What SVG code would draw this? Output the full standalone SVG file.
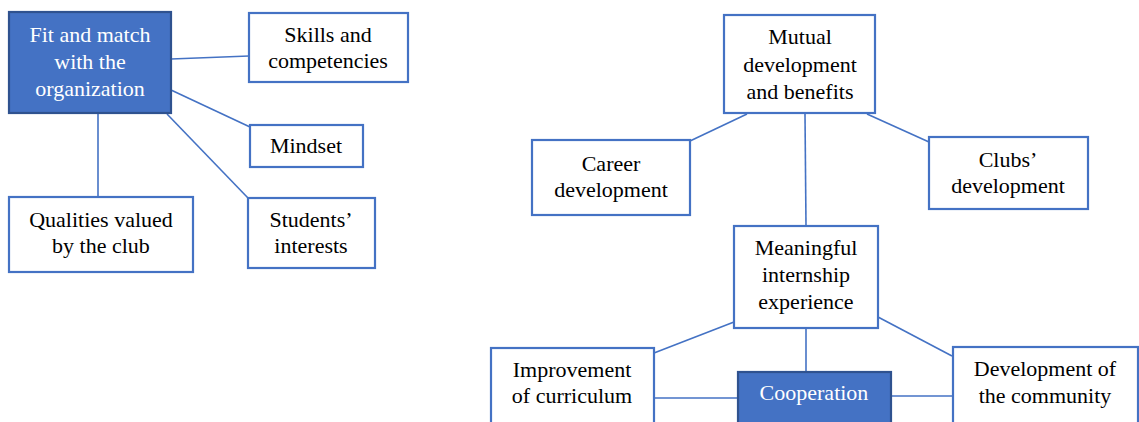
<svg xmlns="http://www.w3.org/2000/svg" width="1139" height="422" viewBox="0 0 1139 422">
<style>
.box{fill:#fff;stroke:#4472C4;stroke-width:2.2}
.dark{fill:#4472C4;stroke:#2F528F;stroke-width:2.2}
text{font-family:'Liberation Serif','Times New Roman',serif;font-size:22px;fill:#000;text-anchor:middle}
text.w{fill:#fff}
.c line{stroke:#4472C4;stroke-width:1.6}
</style>
<rect width="1139" height="422" fill="#fff"/>
<g class="c" id="connectors">
<line x1="171" y1="59" x2="249" y2="56"/>
<line x1="171" y1="90" x2="250" y2="127"/>
<line x1="167" y1="114" x2="248" y2="198"/>
<line x1="98" y1="113" x2="98" y2="197"/>
<line x1="747" y1="114" x2="690" y2="141"/>
<line x1="867" y1="114" x2="929" y2="142"/>
<line x1="805" y1="114" x2="806" y2="226"/>
<line x1="734" y1="322" x2="654" y2="353"/>
<line x1="878" y1="317" x2="952" y2="356"/>
<line x1="806" y1="328" x2="806" y2="372"/>
<line x1="654" y1="398" x2="738" y2="398"/>
<line x1="891" y1="396" x2="953" y2="396"/>
</g>
<g id="fit"><rect class="dark" x="9" y="12" width="162" height="101"/>
<text class="w" x="90" y="42">Fit and match</text><text class="w" x="90" y="69">with the</text><text class="w" x="90" y="96">organization</text></g>
<g id="skills"><rect class="box" x="249" y="13" width="159" height="69"/>
<text x="328" y="42">Skills and</text><text x="328" y="68">competencies</text></g>
<g id="mindset"><rect class="box" x="250" y="125" width="113" height="42"/>
<text x="306" y="153">Mindset</text></g>
<g id="qualities"><rect class="box" x="9" y="197" width="184" height="75"/>
<text x="101" y="227">Qualities valued</text><text x="101" y="253">by the club</text></g>
<g id="students"><rect class="box" x="248" y="198" width="127" height="70"/>
<text x="311" y="227">Students’</text><text x="311" y="253">interests</text></g>
<g id="mutual"><rect class="box" x="724" y="15" width="151" height="98"/>
<text x="800" y="44">Mutual</text><text x="800" y="72">development</text><text x="800" y="99">and benefits</text></g>
<g id="career"><rect class="box" x="532" y="140" width="158" height="75"/>
<text x="611" y="171">Career</text><text x="611" y="197">development</text></g>
<g id="clubs"><rect class="box" x="929" y="137" width="159" height="72"/>
<text x="1008" y="167">Clubs’</text><text x="1008" y="193">development</text></g>
<g id="meaningful"><rect class="box" x="734" y="226" width="144" height="102"/>
<text x="806" y="255">Meaningful</text><text x="806" y="282">internship</text><text x="806" y="309">experience</text></g>
<g id="improvement"><rect class="box" x="491" y="348" width="163" height="82"/>
<text x="572" y="377">Improvement</text><text x="572" y="403">of curriculum</text></g>
<g id="cooperation"><rect class="dark" x="738" y="372" width="153" height="60"/>
<text class="w" x="814" y="400">Cooperation</text></g>
<g id="community"><rect class="box" x="953" y="347" width="185" height="83"/>
<text x="1045" y="376">Development of</text><text x="1045" y="403">the community</text></g>
</svg>
